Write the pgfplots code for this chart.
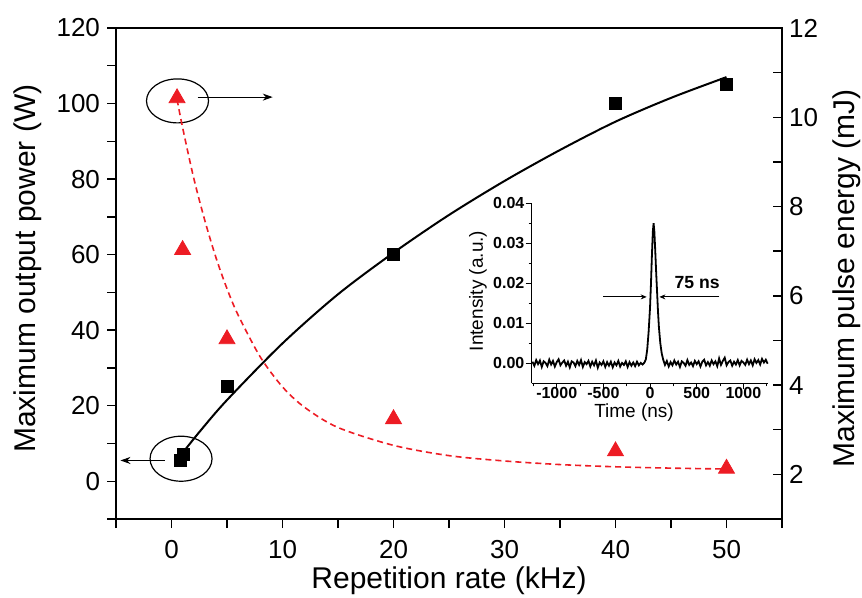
\documentclass[border=0pt]{standalone}
\usepackage{pgfplots}
\pgfplotsset{compat=1.18}
\usepackage{fontspec}
\setmainfont{Liberation Sans}
\usetikzlibrary{calc,arrows.meta}
\definecolor{myred}{RGB}{237,28,36}

\begin{document}
\begin{tikzpicture}
\begin{axis}[name=main,
  scale only axis, width=333bp, height=245.5bp,
  xmin=-5, xmax=55, ymin=-10, ymax=120,
  xtick={0,10,20,30,40,50}, minor xtick={-5,5,15,25,35,45,55},
  ytick={0,20,40,60,80,100,120}, minor ytick={-10,10,30,50,70,90,110},
  xtick pos=bottom, ytick pos=left, tick align=outside,
  major tick length=4.5bp, minor tick length=4.5bp,
  every tick/.style={black, line width=0.7pt},
  axis line style={line width=0.7pt},
  /pgf/number format/assume math mode=true,
  tick label style={font=\fontsize{13bp}{15bp}\selectfont},
  xticklabel style={yshift=-2.7bp},
  xlabel={Repetition rate (kHz)}, ylabel={Maximum output power (W)},
  label style={font=\fontsize{15bp}{18bp}\selectfont},
  ylabel style={at={(axis description cs:-0.132,0.51)}, anchor=center},
  xlabel style={at={(axis description cs:0.5,-0.1263)}, anchor=center},
  clip=false]
\addplot[black, line width=1bp, smooth] coordinates {
 (1,7.5) (2.5,13) (5,21.5) (10,36.5) (15,49.5) (20,60.5) (25,70.5)
 (30,79.5) (35,87.7) (40,95.2) (45,101.5) (50,107)};
\addplot[only marks, mark=square*, mark size=3bp, black] coordinates {
 (0.8,5.4) (1.05,7.2) (5,25) (20,60) (40,100) (50,105)};
% annotations
\draw[line width=0.6bp] (axis cs:0.54,100.7) ellipse [x radius=15.5bp, y radius=11bp];
\draw[line width=0.6bp] (axis cs:0.86,5.96) ellipse [x radius=15.5bp, y radius=11.25bp];
\draw[line width=0.6bp, -{Stealth[length=5bp,width=3.5bp]}] (axis cs:2.35,101.7) -- (axis cs:9.12,101.7);
\draw[line width=0.6bp, -{Stealth[length=5bp,width=3.5bp]}] (axis cs:-0.63,5.5) -- (axis cs:-4.6,5.5);
\end{axis}

\begin{axis}[
  scale only axis, width=333bp, height=245.5bp,
  xmin=-5, xmax=55, ymin=1, ymax=12,
  axis x line=none, axis y line*=right,
  ytick={2,4,6,8,10,12}, minor ytick={1,3,5,7,9,11},
  tick align=inside,
  major tick length=4.5bp, minor tick length=4.5bp,
  every tick/.style={black, line width=0.7pt},
  axis line style={line width=0.7pt},
  /pgf/number format/assume math mode=true,
  tick label style={font=\fontsize{13bp}{15bp}\selectfont},
  ylabel={Maximum pulse energy (mJ)},
  label style={font=\fontsize{15bp}{18bp}\selectfont},
  ylabel style={at={(axis description cs:1.0976,0.49)}, anchor=center},
  clip=false]
\addplot[myred, line width=0.8bp, dash pattern=on 3bp off 2bp, smooth] coordinates {
 (0.5,10.4) (1,9.77) (2,8.64) (3,7.69) (4,6.86) (5,6.16) (6,5.57) (8,4.63)
 (10,3.96) (12,3.5) (15,3.05) (20,2.65) (25,2.42) (30,2.30) (35,2.22)
 (40,2.17) (45,2.14) (50,2.12)};
\addplot[only marks, mark=triangle*, mark size=4.6bp, myred] coordinates {
 (0.5,10.43) (1,7.03) (5,5.03) (20,3.24) (40,2.52) (50,2.13)};
\end{axis}

\begin{axis}[
  at={($(main.south west)+(207.85bp,67.85bp)$)}, anchor=south west,
  scale only axis, width=118.15bp, height=90bp,
  xmin=-1268, xmax=1264, ymin=-0.005, ymax=0.04,
  axis x line*=bottom, axis y line*=left, tick align=outside,
  xtick={-1000,-500,0,500,1000}, minor xtick={-1250,-750,-250,250,750,1250},
  ytick={0,0.01,0.02,0.03,0.04}, minor ytick={0.005,0.015,0.025,0.035},
  scaled y ticks=false,
  /pgf/number format/set thousands separator={},
  yticklabel style={/pgf/number format/fixed, /pgf/number format/precision=2, /pgf/number format/fixed zerofill},
  major tick length=3bp, minor tick length=1.5bp,
  every tick/.style={black, line width=0.5pt},
  axis line style={line width=0.5pt},
  /pgf/number format/assume math mode=true,
  tick label style={font=\bfseries\fontsize{8bp}{9bp}\selectfont, inner sep=0.5bp},
  xticklabel style={yshift=1.8bp},
  xlabel={Time (ns)}, ylabel={Intensity (a.u.)},
  label style={font=\fontsize{9.5bp}{11bp}\selectfont},
  ylabel style={at={(axis description cs:-0.2275,0.513)}, anchor=center},
  xlabel style={at={(axis description cs:0.433,-0.165)}, anchor=center},
  clip=false]
\addplot[black, line width=0.9bp] coordinates {
 (-1260,0.0004) (-1240,-0.0006) (-1220,0.0008) (-1200,-0.0002) (-1180,0.0007)
 (-1160,-0.0009) (-1140,0.0005) (-1120,0.0001) (-1100,-0.0007) (-1080,0.0009)
 (-1060,-0.0003) (-1040,0.0006) (-1020,-0.0008) (-1000,0.0003) (-980,0.0010)
 (-960,-0.0005) (-940,0.0002) (-920,0.0007) (-900,-0.0006) (-880,0.0004)
 (-860,-0.0010) (-840,0.0005) (-820,0.0002) (-800,-0.0007) (-780,0.0006)
 (-760,-0.0004) (-740,0.0008) (-720,-0.0009) (-700,0.0003) (-680,-0.0002)
 (-660,0.0006) (-640,-0.0008) (-620,0.0004) (-600,-0.0005) (-580,0.0007)
 (-560,-0.0011) (-540,0.0002) (-520,-0.0004) (-500,0.0005) (-480,-0.0009)
 (-460,0.0003) (-440,-0.0006) (-420,0.0004) (-400,-0.0010) (-380,0.0002)
 (-360,-0.0005) (-340,0.0006) (-320,-0.0008) (-300,0.0001) (-280,-0.0004)
 (-260,0.0005) (-240,-0.0009) (-220,0.0003) (-200,-0.0006) (-180,0.0002)
 (-160,-0.0007) (-140,0.0004) (-120,-0.0005) (-100,0.0001) (-80,-0.0003)
 (-60,0.0002) (-45,0.0010) (-30,0.0035) (-15,0.0080) (0,0.0140) (10,0.0200)
 (20,0.0270) (30,0.0330) (38,0.0350) (46,0.0330) (55,0.0285) (65,0.0230)
 (75,0.0180) (85,0.0130) (95,0.0090) (110,0.0050) (125,0.0025) (140,0.0010)
 (160,-0.0004) (180,0.0006) (200,-0.0008) (220,0.0003) (240,-0.0005)
 (260,0.0007) (280,-0.0003) (300,0.0004) (320,-0.0009) (340,0.0005)
 (360,0.0001) (380,-0.0006) (400,0.0008) (420,-0.0004) (440,0.0002)
 (460,-0.0007) (480,0.0006) (500,-0.0002) (520,0.0005) (540,-0.0008)
 (560,0.0004) (580,0.0009) (600,-0.0005) (620,0.0003) (640,-0.0006)
 (660,0.0007) (680,-0.0002) (700,0.0005) (720,-0.0007) (740,0.0012)
 (760,-0.0004) (780,0.0006) (800,0.0014) (820,-0.0005) (840,0.0003)
 (860,0.0007) (880,-0.0006) (900,0.0004) (920,-0.0003) (940,0.0008)
 (960,-0.0005) (980,0.0006) (1000,0.0002) (1020,-0.0004) (1040,0.0009)
 (1060,-0.0002) (1080,0.0007) (1100,-0.0005) (1120,0.0010) (1140,0.0001)
 (1160,0.0008) (1180,-0.0003) (1200,0.0011) (1220,0.0002) (1240,0.0009)
 (1260,-0.0001)};
\draw[line width=0.5bp, -{Stealth[length=3bp,width=2.5bp]}] (axis cs:-500,0.0166) -- (axis cs:-36,0.0166);
\draw[line width=0.5bp, -{Stealth[length=3bp,width=2.5bp]}] (axis cs:743,0.0166) -- (axis cs:100,0.0166);
\node[font=\bfseries\fontsize{8.8bp}{10bp}\selectfont] at (axis cs:504,0.0202) {75 ns};
\end{axis}

\pgfresetboundingbox
\path ([shift={(-58bp,-39bp)}]main.south west) rectangle ([shift={(40bp,14bp)}]main.north east);
\end{tikzpicture}
\end{document}
